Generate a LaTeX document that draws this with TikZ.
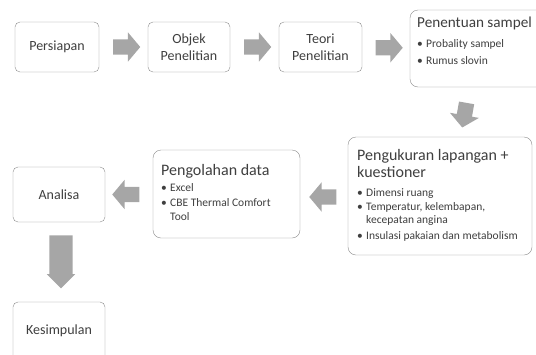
\documentclass[tikz,border=0pt]{standalone}
\usepackage{fontspec}
\setmainfont{Carlito}
\usetikzlibrary{shapes.arrows,positioning,calc}
\definecolor{boxline}{HTML}{8C8C8C}
\definecolor{arrowgray}{HTML}{A6A6A6}
\definecolor{txtgray}{HTML}{3F3F3F}
\newcommand{\itm}[1]{\makebox[9pt][l]{\textbullet}#1}
\newcommand{\cnt}{\hspace*{9pt}}
\newcommand{\ttlfont}{\fontsize{16}{17}\selectfont}

\begin{document}
\begin{tikzpicture}[
  x=1pt,y=-1pt,
  stepbox/.style={draw=boxline,rounded corners=5pt,fill=white,align=center,
                  text=txtgray,font=\fontsize{14}{17}\selectfont,inner sep=0pt},
  listbox/.style={draw=boxline,rounded corners=8pt,fill=white,inner sep=0pt},
  listtext/.style={anchor=north west,align=left,text=txtgray,inner sep=0pt,
                   font=\fontsize{11.5}{13.5}\selectfont},
  blockarrow/.style={single arrow,fill=arrowgray,draw=none,inner xsep=0pt,
                     inner ysep=7.5pt,minimum height=27pt,
                     single arrow head extend=7pt,single arrow tip angle=100}
]
\clip (0,0) rectangle (536,354);
\useasboundingbox (0,0) rectangle (536,354);

% top row
\node[stepbox,minimum width=84pt,minimum height=50pt] (persiapan) at (57,47) {Persiapan};
\node[stepbox,minimum width=82pt,minimum height=50pt] (objek) at (189,47) {Objek\\Penelitian};
\node[stepbox,minimum width=83pt,minimum height=50pt] (teori) at (320.5,47) {Teori\\Penelitian};
\node[listbox,minimum width=140pt,minimum height=77pt] (sampel) at (480,48.5) {};
\node[listtext] (sampeltxt) at (417,17) {{\fontsize{15.2}{17}\selectfont Penentuan sampel}\\[6pt]
  \itm{Probality sampel}\\[4pt] \itm{Rumus slovin}};

% middle row
\node[listbox,minimum width=184pt,minimum height=118pt] (ukur) at (440,196) {};
\node[listtext] (ukurtxt) at (357,149) {{\ttlfont Pengukuran lapangan +}\\[2pt]{\ttlfont kuestioner}\\[6pt]
  \itm{Dimensi ruang}\\ \itm{Temperatur, kelembapan,}\\ \cnt kecepatan angina\\[2.5pt]
  \itm{Insulasi pakaian dan metabolism}};
\node[listbox,minimum width=147pt,minimum height=88pt] (olah) at (226.5,194) {};
\node[listtext] (olahtxt) at (161,164) {{\ttlfont Pengolahan data}\\[3pt]
  \itm{Excel}\\[1.5pt] \itm{CBE Thermal Comfort}\\ \cnt Tool};
\node[stepbox,minimum width=92pt,minimum height=55pt] (analisa) at (59,194.5) {Analisa};

% bottom
\node[stepbox,minimum width=92pt,minimum height=58pt] (kesimpulan) at (59,331) {Kesimpulan};

% block arrows
\node[blockarrow] (a1) at ($(persiapan.east)!0.5!(objek.west)$) {};
\node[blockarrow] (a2) at ($(objek.east)!0.5!(teori.west)$) {};
\node[blockarrow] (a3) at ($(teori.east)!0.5!(sampel.west)$) {};
\node[blockarrow,minimum height=25pt,rotate=-100] (a4) at (465,112) {};
\node[blockarrow,rotate=180] (a5) at ($(ukur.west |- olah.east)!0.5!(olah.east)+(2,3)$) {};
\node[blockarrow,rotate=180] (a6) at ($(olah.west |- analisa.east)!0.5!(analisa.east)$) {};
\node[blockarrow,rotate=-90,minimum height=53pt,inner ysep=11.5pt,
      single arrow head extend=2.5pt,single arrow tip angle=90] (a7) at (61,256) {};
\end{tikzpicture}
\end{document}
